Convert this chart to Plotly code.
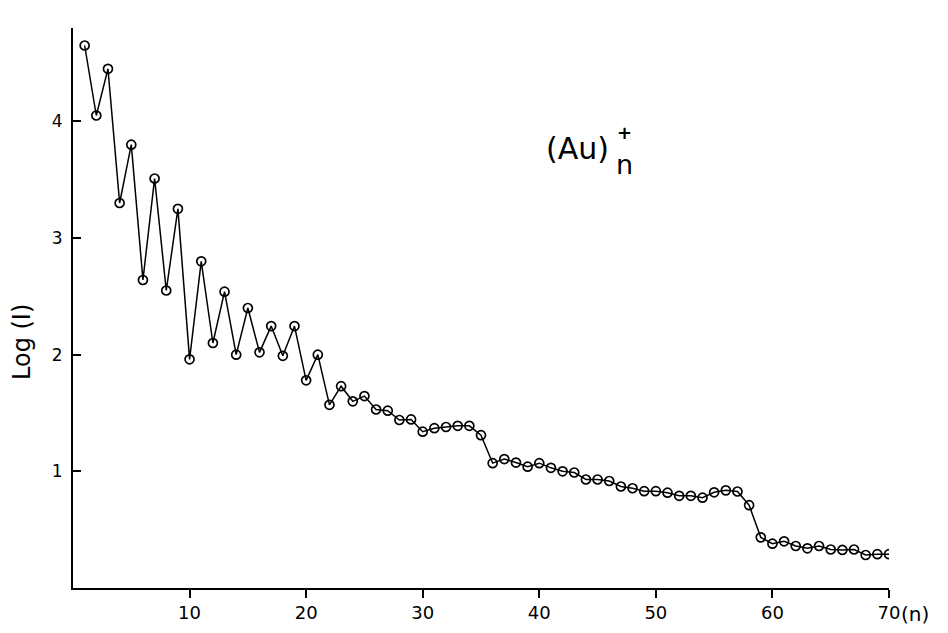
import plotly.graph_objects as go

n_values = list(range(1, 71))
log_intensity = [
    4.65, 4.05, 4.45, 3.30, 3.80, 2.64, 3.51, 2.55, 3.25, 1.96,
    2.80, 2.10, 2.54, 2.00, 2.40, 2.02, 2.245, 1.99, 2.245, 1.78,
    2.00, 1.57, 1.73, 1.60, 1.645, 1.53, 1.52, 1.44, 1.445, 1.34,
    1.37, 1.38, 1.39, 1.39, 1.31, 1.07, 1.105, 1.075, 1.04, 1.07,
    1.03, 1.00, 0.99, 0.93, 0.93, 0.917, 0.87, 0.855, 0.83, 0.83,
    0.817, 0.79, 0.79, 0.774, 0.82, 0.837, 0.827, 0.71, 0.434, 0.38,
    0.40, 0.36, 0.34, 0.36, 0.33, 0.326, 0.33, 0.283, 0.29, 0.29,
]
x_ticks = [10, 20, 30, 40, 50, 60, 70]
y_ticks = [1, 2, 3, 4]

FONT = "DejaVu Sans"

# page body has an 8px margin; plot area target: x 73..889, y 28..588 (page px)
fig = go.Figure()
fig.add_trace(go.Scatter(
    x=n_values, y=log_intensity, mode="lines+markers",
    line=dict(color="black", width=1.5),
    marker=dict(symbol="circle-open", size=9, color="black", line=dict(width=1.7)),
    showlegend=False,
))

fig.update_layout(
    width=948, height=633,
    margin=dict(l=65, r=67, t=20, b=53, autoexpand=False),
    paper_bgcolor="white", plot_bgcolor="white",
    font=dict(family=FONT, color="black", size=17),
    xaxis=dict(
        range=[0, 70], tickvals=x_ticks, ticktext=[str(v) for v in x_ticks],
        ticks="outside", ticklen=8, tickwidth=1.5, tickcolor="black",
        showline=True, linecolor="black", linewidth=1.5,
        showgrid=False, zeroline=False, tickfont=dict(size=18, color="black"),
    ),
    yaxis=dict(
        range=[0, 4.8], tickvals=y_ticks, ticktext=[str(v) for v in y_ticks],
        ticks="inside", ticklen=8, tickwidth=1.5, tickcolor="black",
        showline=True, linecolor="black", linewidth=1.8,
        showgrid=False, zeroline=False, tickfont=dict(size=17, color="black"),
        ticklabelstandoff=5,
    ),
)


def px_to_paper(px, py):
    return (px - 73) / (889 - 73), (588 - py) / (588 - 28)


lx, ly = px_to_paper(22, 342)
fig.add_annotation(x=lx, y=ly, xref="paper", yref="paper", text="Log (I)", showarrow=False,
                   textangle=-90, xanchor="center", yanchor="middle",
                   font=dict(size=24, family=FONT, color="black"))
fig.add_annotation(x=70, y=0, xref="x", yref="y", text="(n)", showarrow=False,
                   xanchor="left", yanchor="top", xshift=10, yshift=-12,
                   font=dict(size=20, family=FONT, color="black"))
ax, ay = px_to_paper(611, 148)
fig.add_annotation(x=ax, y=ay, xref="paper", yref="paper", text="(Au)", showarrow=False,
                   font=dict(size=30, family=FONT, color="black"), xanchor="right", yanchor="middle")
nx, ny = px_to_paper(624, 164)
fig.add_annotation(x=nx, y=ny, xref="paper", yref="paper", text="n", showarrow=False,
                   font=dict(size=27, family=FONT, color="black"), xanchor="center", yanchor="middle")
sx, sy = px_to_paper(624, 132)
fig.add_annotation(x=sx, y=sy, xref="paper", yref="paper", text="<b>+</b>", showarrow=False,
                   font=dict(size=18, family=FONT, color="black"), xanchor="center", yanchor="middle")

fig.write_html("out.html")
